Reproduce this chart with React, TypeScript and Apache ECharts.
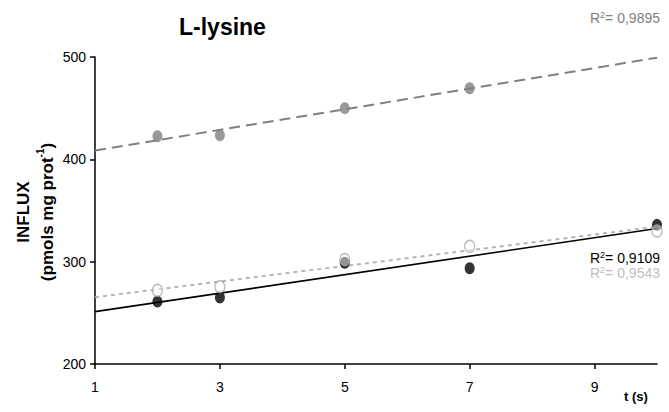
import React, { useEffect, useRef } from "react";
import * as echarts from "echarts";

const times = [2, 3, 5, 7];
const timesAll = [2, 3, 5, 7, 10];
const grayFilled = [422.5, 423.5, 450, 469.5];
const blackFilled = [261, 265, 299, 293.5, 336];
const openCircles = [272, 275.5, 302, 315, 330];
const xTicks = [1, 3, 5, 7, 9];
const r2Gray = "0,9895";
const r2Black = "0,9109";
const r2Open = "0,9543";

function fit(xs: number[], ys: number[]) {
  const n = xs.length;
  const mx = xs.reduce((a, b) => a + b, 0) / n;
  const my = ys.reduce((a, b) => a + b, 0) / n;
  let sxy = 0, sxx = 0;
  for (let i = 0; i < n; i++) {
    sxy += (xs[i] - mx) * (ys[i] - my);
    sxx += (xs[i] - mx) * (xs[i] - mx);
  }
  const b = sxy / sxx;
  const a = my - b * mx;
  return [[1, a + b * 1], [10, a + b * 10]];
}

const pts = (xs: number[], ys: number[]) => xs.map((x, i) => [x, ys[i]]);

export default function App() {
  const ref = useRef<HTMLDivElement>(null);
  useEffect(() => {
    document.body.style.margin = "0";
    const chart = echarts.init(ref.current!, null, { renderer: "svg" });
    const font = "'Liberation Sans', Arial, sans-serif";
    const r2 = (text: string, color: string, right: number, y: number) => ({
      type: "text",
      right,
      top: y,
      style: {
        text: "R{s|2}= " + text,
        fill: color,
        font: `14px ${font}`,
        rich: { s: { fontSize: 9, verticalAlign: "top", fill: color, padding: [0, 0, 6, 0] } },
      },
    });
    chart.setOption({
      animation: false,
      grid: { left: 95, right: 12, top: 57, bottom: 48 },
      xAxis: {
        type: "value",
        min: 1,
        max: 10,
        axisLine: { show: true, lineStyle: { color: "#000", width: 1.5 } },
        axisTick: { show: true, length: 5, customValues: xTicks, lineStyle: { color: "#000", width: 1.5 } },
        axisLabel: { customValues: xTicks, color: "#000", fontSize: 14, fontFamily: font, margin: 16 },
        splitLine: { show: false },
      },
      yAxis: {
        type: "value",
        min: 200,
        max: 500,
        interval: 100,
        axisLine: { show: true, lineStyle: { color: "#000", width: 1.5 } },
        axisTick: { show: true, length: 5, lineStyle: { color: "#000", width: 1.5 } },
        axisLabel: { color: "#000", fontSize: 14, fontFamily: font, margin: 9 },
        splitLine: { show: false },
      },
      graphic: [
        {
          type: "text",
          left: 179,
          top: 15,
          style: { text: "L-lysine", fill: "#000", font: `bold 23px ${font}` },
        },
        r2(r2Gray, "#808080", 9, 10),
        r2(r2Black, "#000", 9, 250),
        r2(r2Open, "#c0c0c0", 9, 265),
        {
          type: "text",
          left: 624,
          top: 390,
          style: { text: "t (s)", fill: "#000", font: `bold 13px ${font}` },
        },
        {
          type: "text",
          x: 35,
          y: 212,
          rotation: Math.PI / 2,
          style: {
            text: "INFLUX\n(pmols mg prot{s|-1})",
            fill: "#000",
            font: `bold 17px ${font}`,
            align: "center",
            verticalAlign: "middle",
            lineHeight: 24,
            rich: {
              s: { fontSize: 10, fontWeight: "bold", verticalAlign: "top", padding: [0, 0, 8, 0] },
            },
          },
        },
      ],
      series: [
        {
          type: "line",
          data: fit(times, grayFilled),
          symbol: "none",
          lineStyle: { color: "#808080", width: 2, type: [11, 6] },
          z: 2,
        },
        {
          type: "line",
          data: fit(timesAll, blackFilled),
          symbol: "none",
          lineStyle: { color: "#000", width: 1.6 },
          z: 2,
        },
        {
          type: "line",
          data: fit(timesAll, openCircles),
          symbol: "none",
          lineStyle: { color: "#b4b4b4", width: 2, type: [4, 4] },
          z: 2,
        },
        {
          type: "scatter",
          data: pts(times, grayFilled),
          symbol: "circle",
          symbolSize: [10, 12],
          itemStyle: { color: "#808080" },
          clip: false,
          z: 3,
        },
        {
          type: "scatter",
          data: pts(timesAll, blackFilled),
          symbol: "circle",
          symbolSize: [10, 12],
          itemStyle: { color: "#000" },
          clip: false,
          z: 3,
        },
        {
          type: "scatter",
          data: pts(timesAll, openCircles),
          symbol: "circle",
          symbolSize: [10, 12],
          itemStyle: { color: "rgba(255,255,255,0.6)", borderColor: "#a8a8a8", borderWidth: 1.3 },
          clip: false,
          z: 4,
        },
      ],
    });
    return () => chart.dispose();
  }, []);
  return <div ref={ref} style={{ width: 669, height: 412 }} />;
}
